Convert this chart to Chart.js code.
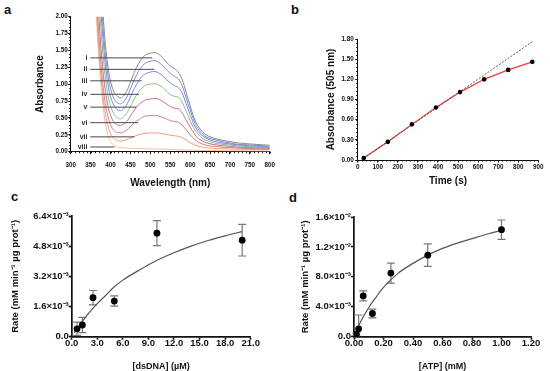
<!DOCTYPE html>
<html>
<head>
<meta charset="utf-8">
<script src="https://cdn.jsdelivr.net/npm/chart.js@4.4.1/dist/chart.umd.min.js"></script>
<style>
  html, body { margin: 0; padding: 0; background: #fff; }
  body { width: 550px; height: 371px; position: relative; overflow: hidden; font-family: 'Liberation Sans', Arial, sans-serif; }
  canvas { position: absolute; }
  .tag { position: absolute; font-size: 13px; line-height: 13px; font-weight: bold; color: #111; }
</style>
</head>
<body>
<div class="tag" style="left:4px;top:3px">a</div>
<div class="tag" style="left:291px;top:3px">b</div>
<div class="tag" style="left:11px;top:190px">c</div>
<div class="tag" style="left:289px;top:191px">d</div>
<canvas id="chart-a" width="282" height="190" style="left:0;top:0"></canvas>
<canvas id="chart-b" width="268" height="190" style="left:282px;top:0"></canvas>
<canvas id="chart-c" width="282" height="186" style="left:0;top:185px"></canvas>
<canvas id="chart-d" width="268" height="186" style="left:282px;top:185px"></canvas>
<script>
// ---- panel a : spectra ----
const wavelength = [355,360,365,370,375,380,385,390,395,400,405,410,415,420,425,430,440,450,460,470,480,490,500,510,520,530,540,550,560,570,580,590,600,610,620,630,640,660,680,700,720,750,800];
const specI    = [3.8,3.4,3.0,2.7,2.42,2.12,1.74,1.43,1.2,1.05,0.94,0.87,0.83,0.81,0.80,0.81,0.89,1.03,1.18,1.30,1.39,1.44,1.46,1.47,1.45,1.40,1.33,1.27,1.23,1.18,1.07,0.88,0.68,0.50,0.38,0.30,0.25,0.20,0.17,0.15,0.13,0.115,0.095];
const specII   = [3.7,3.3,2.9,2.6,2.3,1.93,1.57,1.29,1.08,0.94,0.84,0.77,0.735,0.715,0.708,0.72,0.80,0.93,1.07,1.19,1.27,1.32,1.34,1.35,1.33,1.28,1.22,1.16,1.12,1.08,0.98,0.80,0.62,0.455,0.34,0.27,0.22,0.18,0.15,0.13,0.11,0.10,0.08];
const specIII  = [3.6,3.2,2.8,2.45,2.12,1.75,1.40,1.14,0.95,0.82,0.73,0.67,0.635,0.615,0.608,0.62,0.69,0.81,0.94,1.04,1.12,1.16,1.18,1.19,1.17,1.13,1.07,1.02,0.98,0.95,0.87,0.71,0.55,0.40,0.30,0.24,0.20,0.155,0.13,0.115,0.10,0.087,0.07];
const specIV   = [3.5,3.0,2.6,2.25,1.9,1.52,1.2,0.97,0.80,0.68,0.60,0.545,0.51,0.495,0.488,0.50,0.56,0.67,0.785,0.88,0.95,0.99,1.00,1.01,0.99,0.96,0.90,0.85,0.82,0.81,0.735,0.60,0.46,0.34,0.26,0.20,0.17,0.13,0.11,0.10,0.084,0.074,0.06];
const specV    = [3.4,2.9,2.4,2.05,1.62,1.26,0.99,0.79,0.64,0.54,0.47,0.43,0.405,0.393,0.388,0.40,0.44,0.53,0.62,0.69,0.74,0.77,0.78,0.79,0.78,0.75,0.71,0.67,0.645,0.635,0.575,0.47,0.365,0.27,0.20,0.16,0.134,0.106,0.09,0.08,0.068,0.061,0.05];
const specVI   = [3.3,2.8,2.25,1.8,1.38,1.04,0.79,0.61,0.49,0.40,0.34,0.31,0.29,0.282,0.278,0.285,0.315,0.37,0.43,0.47,0.51,0.53,0.535,0.54,0.53,0.51,0.49,0.46,0.45,0.435,0.395,0.325,0.25,0.19,0.144,0.115,0.097,0.078,0.068,0.06,0.053,0.048,0.04];
const specVII  = [3.2,2.7,2.1,1.6,1.2,0.88,0.64,0.47,0.35,0.27,0.22,0.19,0.17,0.162,0.158,0.162,0.176,0.20,0.228,0.25,0.266,0.275,0.278,0.28,0.276,0.268,0.255,0.244,0.237,0.228,0.208,0.173,0.136,0.104,0.082,0.067,0.058,0.049,0.044,0.04,0.036,0.033,0.03];
const specVIII = [3.0,2.5,1.9,1.45,1.05,0.75,0.50,0.33,0.22,0.15,0.11,0.09,0.075,0.067,0.062,0.06,0.055,0.05,0.048,0.046,0.044,0.043,0.042,0.04,0.039,0.037,0.035,0.033,0.031,0.03,0.028,0.026,0.024,0.022,0.021,0.02,0.019,0.017,0.015,0.014,0.013,0.012,0.01];
const spectra = [specI, specII, specIII, specIV, specV, specVI, specVII, specVIII];
const specColors = ['#8a8a8a', '#8487c8', '#7088ee', '#88c27c', '#c0708e', '#cc8080', '#f29c7e', '#f6bca2'];
const bandNames = ['i', 'ii', 'iii', 'iv', 'v', 'vi', 'vii', 'viii'];
const bandLevel = [1.39, 1.22, 1.05, 0.85, 0.66, 0.43, 0.22, 0.07];
const bandLineEnd = [505, 510, 478, 472, 465, 470, 460, 410];
const bandLineStart = 349;
const bandTextAt = 342;

// ---- panel b : kinetics at 505 nm ----
const timeS = [30, 150, 270, 390, 510, 630, 750, 870];
const abs505 = [0.03, 0.27, 0.53, 0.78, 1.01, 1.20, 1.34, 1.46];
const fitTime = [30, 875];
const fitAbs = [0.025, 1.77];

// ---- panel c : dsDNA (rates x10^-3) ----
const dsDNA = [0.625, 1.25, 2.5, 5, 10, 20];
const rateC = [0.42, 0.62, 2.07, 1.89, 5.49, 5.12];
const errC = [0.35, 0.40, 0.38, 0.27, 0.66, 0.84];
const fitDNA = [0.3, 1, 2, 3, 4, 5, 6, 8, 10, 12, 14, 16, 18, 20];
const fitRateC = [0.2, 0.65, 1.25, 1.75, 2.2, 2.65, 3.0, 3.55, 4.05, 4.45, 4.8, 5.1, 5.35, 5.57];

// ---- panel d : ATP (rates x10^-3) ----
const atp = [0.0156, 0.03125, 0.0625, 0.125, 0.25, 0.5, 1.0];
const rateD = [0.32, 1.05, 5.45, 3.1, 8.5, 10.9, 14.3];
const errD = [0.15, 1.85, 0.67, 0.58, 1.34, 1.5, 1.3];
const fitATP = [0, 0.02, 0.05, 0.1, 0.15, 0.2, 0.3, 0.4, 0.5, 0.6, 0.7, 0.8, 0.9, 1.0];
const fitRateD = [0, 0.95, 2.2, 3.9, 5.3, 6.6, 8.5, 9.8, 10.9, 11.8, 12.5, 13.1, 13.7, 14.2];

Chart.defaults.font.family = "'Liberation Sans', Arial, sans-serif";
Chart.defaults.color = '#111';
Chart.defaults.animation = false;
Chart.defaults.plugins.legend.display = false;
Chart.defaults.plugins.tooltip.enabled = false;

function pts(xs, ys) { return xs.map((x, i) => ({ x: x, y: ys[i] })); }

// small outward minor ticks (GraphPad style)
const minorTicks = {
  id: 'minorTicks',
  afterDraw(chart, args, opts) {
    const ctx = chart.ctx;
    ctx.save();
    ctx.strokeStyle = '#111';
    ctx.lineWidth = 1;
    ['x', 'y'].forEach(k => {
      const step = opts[k];
      if (!step) return;
      const s = chart.scales[k];
      const n = Math.round((s.max - s.min) / step);
      for (let i = 0; i <= n; i++) {
        const p = Math.round(s.getPixelForValue(s.min + i * step)) + 0.5;
        ctx.beginPath();
        if (k === 'x') { ctx.moveTo(p, s.top); ctx.lineTo(p, s.top + opts.len); }
        else { ctx.moveTo(s.right, p); ctx.lineTo(s.right - opts.len, p); }
        ctx.stroke();
      }
    });
    ctx.restore();
  }
};

const errorBars = {
  id: 'errorBars',
  beforeDatasetsDraw(chart, args, opts) {
    const { ctx, scales: { x, y } } = chart;
    ctx.save();
    ctx.strokeStyle = opts.color || '#777';
    ctx.lineWidth = 1.2;
    chart.data.datasets.forEach(ds => {
      if (!ds.errors) return;
      ds.data.forEach((p, j) => {
        const e = ds.errors[j];
        const px = x.getPixelForValue(p.x);
        const hi = y.getPixelForValue(p.y + e);
        const lowVal = p.y - e;
        const lo = y.getPixelForValue(Math.max(lowVal, y.min));
        const cap = 4;
        ctx.beginPath();
        ctx.moveTo(px, hi); ctx.lineTo(px, lo);
        ctx.moveTo(px - cap, hi); ctx.lineTo(px + cap, hi);
        if (lowVal > y.min) { ctx.moveTo(px - cap, lo); ctx.lineTo(px + cap, lo); }
        ctx.stroke();
      });
    });
    ctx.restore();
  }
};

const bandLabels = {
  id: 'bandLabels',
  afterDatasetsDraw(chart, args, opts) {
    const { ctx, scales: { x, y } } = chart;
    ctx.save();
    ctx.font = "bold 7px 'Liberation Sans', Arial, sans-serif";
    ctx.fillStyle = '#333';
    ctx.textAlign = 'right';
    ctx.textBaseline = 'middle';
    bandNames.forEach((n, i) => ctx.fillText(n, x.getPixelForValue(bandTextAt), y.getPixelForValue(bandLevel[i])));
    ctx.restore();
  }
};

function axis(o) {
  return {
    type: 'linear',
    min: o.min,
    max: o.max,
    border: { color: '#111', width: o.lw },
    grid: { drawOnChartArea: false, tickLength: o.tick, tickColor: '#111', tickWidth: o.lw },
    ticks: {
      stepSize: o.step, padding: o.pad, color: '#111', maxRotation: 0, autoSkip: false,
      font: { size: o.fs, weight: 'bold' }, callback: o.fmt
    },
    title: {
      display: true, text: o.title, color: '#111',
      font: { size: o.ts, weight: 'bold', lineHeight: 1.2 },
      padding: { top: 0, bottom: o.tpb || 0 }
    },
    afterFit: function (s) { if (s.isHorizontal()) s.height = o.size; else s.width = o.size; }
  };
}

// panel a
const aSets = [];
bandLevel.forEach((lv, i) => {
  aSets.push({
    data: [{ x: bandLineStart, y: lv }, { x: bandLineEnd[i], y: lv }],
    borderColor: '#4a4a4a', borderWidth: 1, pointRadius: 0
  });
});
spectra.forEach((s, i) => {
  aSets.push({
    data: pts(wavelength, s), borderColor: specColors[i], borderWidth: 1,
    pointRadius: 0, cubicInterpolationMode: 'monotone'
  });
});
new Chart(document.getElementById('chart-a'), {
  type: 'line',
  data: { datasets: aSets },
  options: {
    responsive: false,
    layout: { padding: { left: 34, top: 16.7, right: 9.3, bottom: 0 } },
    scales: {
      x: axis({ min: 300, max: 800, step: 50, lw: 1, tick: 2.5, pad: 7, fs: 6.3, ts: 10, tpb: 1,
        title: 'Wavelength (nm)', size: 38.3, fmt: v => v.toFixed(0) }),
      y: axis({ min: 0, max: 2, step: 0.25, lw: 1, tick: 2.5, pad: 0.5, fs: 6.3, ts: 10,
        title: 'Absorbance', size: 36.7, fmt: v => v.toFixed(2) })
    },
    plugins: { minorTicks: { x: 10, y: 0.05, len: 1.5 } }
  },
  plugins: [minorTicks, bandLabels]
});

// panel b
new Chart(document.getElementById('chart-b'), {
  type: 'line',
  data: {
    datasets: [
      { data: pts(timeS, abs505), showLine: false, pointRadius: 2.3, pointBackgroundColor: '#000', pointBorderWidth: 0 },
      { data: pts(fitTime, fitAbs), borderColor: '#333', borderWidth: 0.8, borderDash: [2, 1.5], pointRadius: 0 },
      { data: pts(timeS, abs505), borderColor: '#f23a3a', borderWidth: 1.2, pointRadius: 0 }
    ]
  },
  options: {
    responsive: false,
    layout: { padding: { left: 43.7, top: 39, right: 11.7, bottom: 2.3 } },
    scales: {
      x: axis({ min: 0, max: 900, step: 100, lw: 1, tick: 2.5, pad: 1, fs: 6.3, ts: 10,
        title: 'Time (s)', size: 27.7, fmt: v => v.toFixed(0) }),
      y: axis({ min: 0, max: 1.8, step: 0.3, lw: 1, tick: 2.5, pad: 1.5, fs: 6.3, ts: 10,
        title: 'Absorbance (505 nm)', size: 32, fmt: v => v.toFixed(2) })
    },
    plugins: { minorTicks: { x: 20, y: 0.06, len: 1.5 } }
  },
  plugins: [minorTicks]
});

const rateTitle = 'Rate (mM min\u207B\u00B9 \u00B5g prot\u207B\u00B9)';

// panel c
new Chart(document.getElementById('chart-c'), {
  type: 'line',
  data: {
    datasets: [
      { data: pts(dsDNA, rateC), errors: errC, showLine: false, pointRadius: 3.4, pointBackgroundColor: '#000', pointBorderWidth: 0 },
      { data: pts(fitDNA, fitRateC), borderColor: '#555', borderWidth: 1.2, pointRadius: 0, cubicInterpolationMode: 'monotone' }
    ]
  },
  options: {
    responsive: false,
    layout: { padding: { left: 9.3, top: 31, right: 31.3, bottom: 0 } },
    scales: {
      x: axis({ min: 0, max: 21, step: 3, lw: 1.7, tick: 3, pad: -2, fs: 9.5, ts: 9, tpb: -0.8,
        title: '[dsDNA] (\u00B5M)', size: 34.3, fmt: v => v.toFixed(1) }),
      y: axis({ min: 0, max: 6.4, step: 1.6, lw: 1.7, tick: 3, pad: 0, fs: 9.5, ts: 9.5,
        title: rateTitle, size: 62.4, fmt: v => v === 0 ? '0.0' : v.toFixed(1) + '\u00D710\u207B\u00B3' })
    },
    plugins: { errorBars: { color: '#777' } }
  },
  plugins: [errorBars]
});

// panel d
new Chart(document.getElementById('chart-d'), {
  type: 'line',
  data: {
    datasets: [
      { data: pts(atp, rateD), errors: errD, showLine: false, pointRadius: 3.4, pointBackgroundColor: '#000', pointBorderWidth: 0 },
      { data: pts(fitATP, fitRateD), borderColor: '#555', borderWidth: 1.2, pointRadius: 0, cubicInterpolationMode: 'monotone' }
    ]
  },
  options: {
    responsive: false,
    layout: { padding: { left: 17.3, top: 32, right: 19, bottom: 0 } },
    scales: {
      x: axis({ min: 0, max: 1.2, step: 0.2, lw: 1.7, tick: 3, pad: -2, fs: 9.5, ts: 9, tpb: -0.8,
        title: '[ATP] (mM)', size: 34.3, fmt: v => v.toFixed(2) }),
      y: axis({ min: 0, max: 16, step: 4, lw: 1.7, tick: 3, pad: 0, fs: 9.5, ts: 9.5,
        title: rateTitle, size: 54.7,
        fmt: v => v === 0 ? '0.0' : (v < 10 ? v.toFixed(1) + '\u00D710\u207B\u00B3' : (v / 10).toFixed(1) + '\u00D710\u207B\u00B2') })
    },
    plugins: { errorBars: { color: '#777' } }
  },
  plugins: [errorBars]
});
</script>
</body>
</html>
